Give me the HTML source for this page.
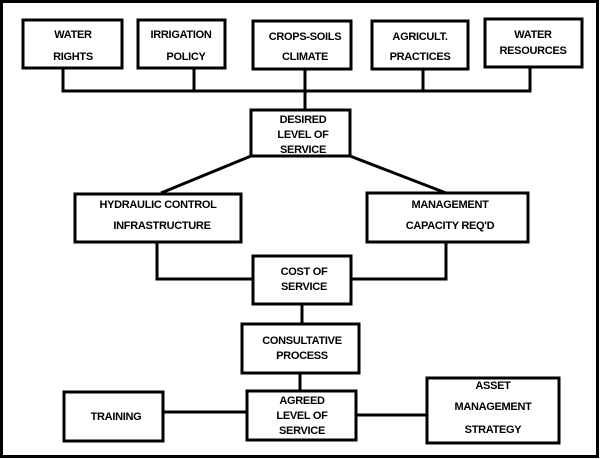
<!DOCTYPE html>
<html><head><style>
html,body{margin:0;padding:0;background:#fff}
svg{display:block}
text{font-family:"Liberation Sans",Arial,sans-serif;font-weight:bold;font-size:11px;fill:#000;text-anchor:middle;letter-spacing:-0.3px}
</style></head><body>
<svg width="600" height="459" viewBox="0 0 600 459">
<g fill="none" stroke="#000" stroke-width="3">
<rect x="1.5" y="1.5" width="596" height="455"/>
<rect x="23" y="20" width="99" height="48"/>
<rect x="138" y="20" width="87" height="48"/>
<rect x="253" y="21" width="98" height="48"/>
<rect x="372" y="21" width="96" height="48"/>
<rect x="485" y="19" width="97" height="48"/>
<polyline points="63,68 63,91 530,91 530,67"/>
<line x1="194" y1="68" x2="194" y2="91"/>
<line x1="305" y1="69" x2="305" y2="110"/>
<line x1="423" y1="69" x2="423" y2="91"/>
<rect x="251" y="110" width="99" height="46"/>
<line x1="251" y1="156" x2="161" y2="193"/>
<line x1="350" y1="156" x2="446" y2="193"/>
<rect x="75" y="194" width="166" height="48"/>
<rect x="367" y="193" width="161" height="49"/>
<polyline points="157,242 157,279 253,279"/>
<polyline points="446,242 446,279 351,279"/>
<rect x="253" y="256" width="98" height="48"/>
<line x1="302" y1="304" x2="302" y2="324"/>
<rect x="242" y="324" width="117" height="49"/>
<line x1="300" y1="373" x2="300" y2="391"/>
<rect x="247" y="391" width="109" height="49"/>
<rect x="64" y="392" width="99" height="49"/>
<line x1="163" y1="412" x2="247" y2="412"/>
<rect x="427" y="378" width="132" height="65"/>
<line x1="356" y1="415" x2="427" y2="415"/>
</g>
<text x="73" y="38">WATER</text><text x="73" y="60">RIGHTS</text>
<text x="181" y="38">IRRIGATION</text><text x="186" y="60">POLICY</text>
<text x="305" y="40">CROPS-SOILS</text><text x="305" y="60">CLIMATE</text>
<text x="420" y="40">AGRICULT.</text><text x="420" y="60">PRACTICES</text>
<text x="533" y="38">WATER</text><text x="533" y="54">RESOURCES</text>
<text x="303" y="123">DESIRED</text><text x="303" y="138">LEVEL OF</text><text x="303" y="153">SERVICE</text>
<text x="158" y="208">HYDRAULIC CONTROL</text><text x="162" y="229">INFRASTRUCTURE</text>
<text x="450" y="208">MANAGEMENT</text><text x="450" y="229">CAPACITY REQ'D</text>
<text x="304" y="275">COST OF</text><text x="304" y="290">SERVICE</text>
<text x="302" y="344">CONSULTATIVE</text><text x="302" y="359">PROCESS</text>
<text x="302" y="404">AGREED</text><text x="302" y="419">LEVEL OF</text><text x="302" y="434">SERVICE</text>
<text x="116" y="420">TRAINING</text>
<text x="493" y="389">ASSET</text><text x="493" y="410">MANAGEMENT</text><text x="493" y="433">STRATEGY</text>
</svg>
</body></html>
